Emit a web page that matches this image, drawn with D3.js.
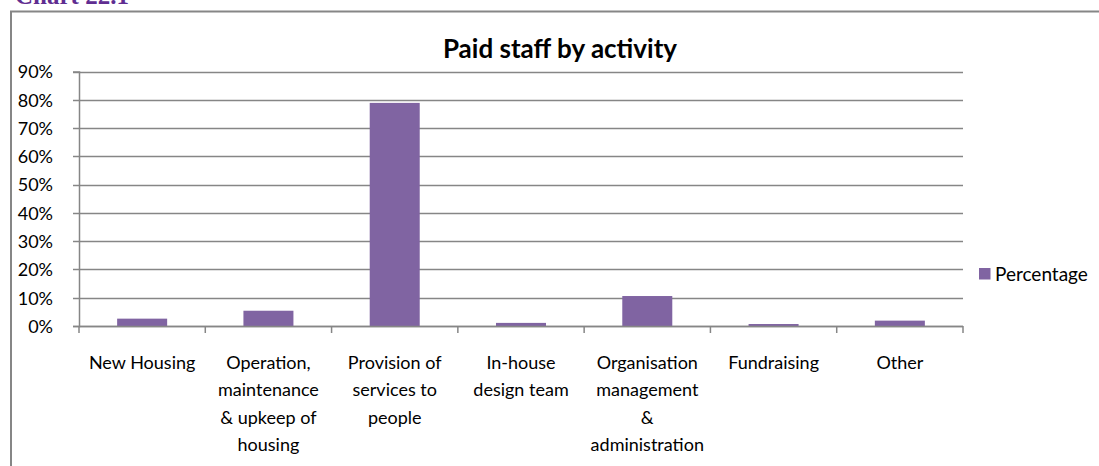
<!DOCTYPE html>
<html>
<head>
<meta charset="utf-8">
<script src="https://cdn.jsdelivr.net/npm/d3@7"></script>
<style>
  body { margin: 0; background: #fff; }
  svg text { font-family: Lato, "Open Sans", sans-serif; fill: #000; }
</style>
</head>
<body>
<div id="chart"></div>
<script>
// Data
const categories = [
    "New Housing",
    "Operation,\nmaintenance\n& upkeep of\nhousing",
    "Provision of\nservices to\npeople",
    "In-house\ndesign team",
    "Organisation\nmanagement\n&\nadministration",
    "Fundraising",
    "Other"
];
const percentage = [2.6, 5.4, 78.9, 1.1, 10.6, 0.7, 1.9];
const yTicks = [0, 10, 20, 30, 40, 50, 60, 70, 80, 90];
const seriesName = "Percentage";

const width = 1099, height = 466;
const plotLeft = 79, plotRight = 963, plotTop = 71.5, plotBottom = 326;
const barColor = "#8064a2", gridColor = "#868686";

const svg = d3.select("#chart").append("svg")
    .attr("width", width)
    .attr("height", height);

// cut-off heading above the chart frame
svg.append("text")
    .attr("x", 15)
    .attr("y", 4)
    .style("font-family", "'Liberation Serif', serif")
    .style("font-weight", "bold")
    .style("font-size", "25px")
    .style("fill", "#5f2d91")
    .text("Chart 22.1");

// chart frame (top and left edges visible)
svg.append("path")
    .attr("d", `M11,${height} V11.5 H${width}`)
    .attr("fill", "none")
    .attr("stroke", gridColor)
    .attr("stroke-width", 2);

// title
svg.append("text")
    .attr("x", 560)
    .attr("y", 58)
    .attr("text-anchor", "middle")
    .style("font-weight", "bold")
    .style("font-size", "26px")
    .text("Paid staff by activity");

// scales
const x = d3.scaleBand()
    .domain(categories)
    .range([plotLeft, plotRight])
    .paddingInner(0.604)
    .paddingOuter(0.302);

const y = d3.scaleLinear()
    .domain([0, 90])
    .range([plotBottom, plotTop]);

// gridlines
svg.append("g")
    .selectAll("line")
    .data(yTicks)
    .join("line")
    .attr("x1", plotLeft - 6)
    .attr("x2", plotRight)
    .attr("y1", d => Math.round(y(d)) + 0.5)
    .attr("y2", d => Math.round(y(d)) + 0.5)
    .attr("stroke", gridColor)
    .attr("stroke-width", 1.5);

// y axis
const yAxis = svg.append("g")
    .attr("transform", `translate(${plotLeft},0)`)
    .call(d3.axisLeft(y).tickValues(yTicks).tickFormat(d => d + "%").tickSize(6).tickPadding(20));
yAxis.select(".domain").attr("stroke", gridColor).attr("stroke-width", 1.5);
yAxis.selectAll(".tick line").remove();
yAxis.selectAll("text")
    .style("font-family", "Lato, sans-serif")
    .style("font-size", "18px")
    .attr("dy", "0.35em");

// bars
svg.append("g")
    .selectAll("rect")
    .data(percentage)
    .join("rect")
    .attr("x", (d, i) => x(categories[i]))
    .attr("y", d => y(d))
    .attr("width", x.bandwidth())
    .attr("height", d => y(0) - y(d))
    .attr("fill", barColor);

// x axis with category ticks at the boundaries
const step = x.step();
const boundaries = d3.range(categories.length + 1).map(i => plotLeft + i * step);
svg.append("line")
    .attr("x1", plotLeft).attr("x2", plotRight)
    .attr("y1", plotBottom + 0.5).attr("y2", plotBottom + 0.5)
    .attr("stroke", gridColor)
    .attr("stroke-width", 1.5);
svg.append("g")
    .selectAll("line")
    .data(boundaries)
    .join("line")
    .attr("x1", d => d).attr("x2", d => d)
    .attr("y1", plotBottom).attr("y2", plotBottom + 7)
    .attr("stroke", gridColor)
    .attr("stroke-width", 1.5);

// category labels
const labels = svg.append("g")
    .selectAll("text")
    .data(categories)
    .join("text")
    .attr("x", d => x(d) + x.bandwidth() / 2)
    .attr("y", 369)
    .attr("text-anchor", "middle")
    .style("font-size", "18px");
labels.selectAll("tspan")
    .data(d => d.split("\n"))
    .join("tspan")
    .attr("x", function () { return this.parentNode.getAttribute("x"); })
    .attr("dy", (d, i) => i === 0 ? 0 : 27.3)
    .text(d => d);

// legend
const legend = svg.append("g").attr("transform", "translate(979,268)");
legend.append("rect")
    .attr("width", 11.5)
    .attr("height", 11.5)
    .attr("fill", barColor);
legend.append("text")
    .attr("x", 16)
    .attr("y", 12.5)
    .style("font-size", "19px")
    .text(seriesName);
</script>
</body>
</html>
